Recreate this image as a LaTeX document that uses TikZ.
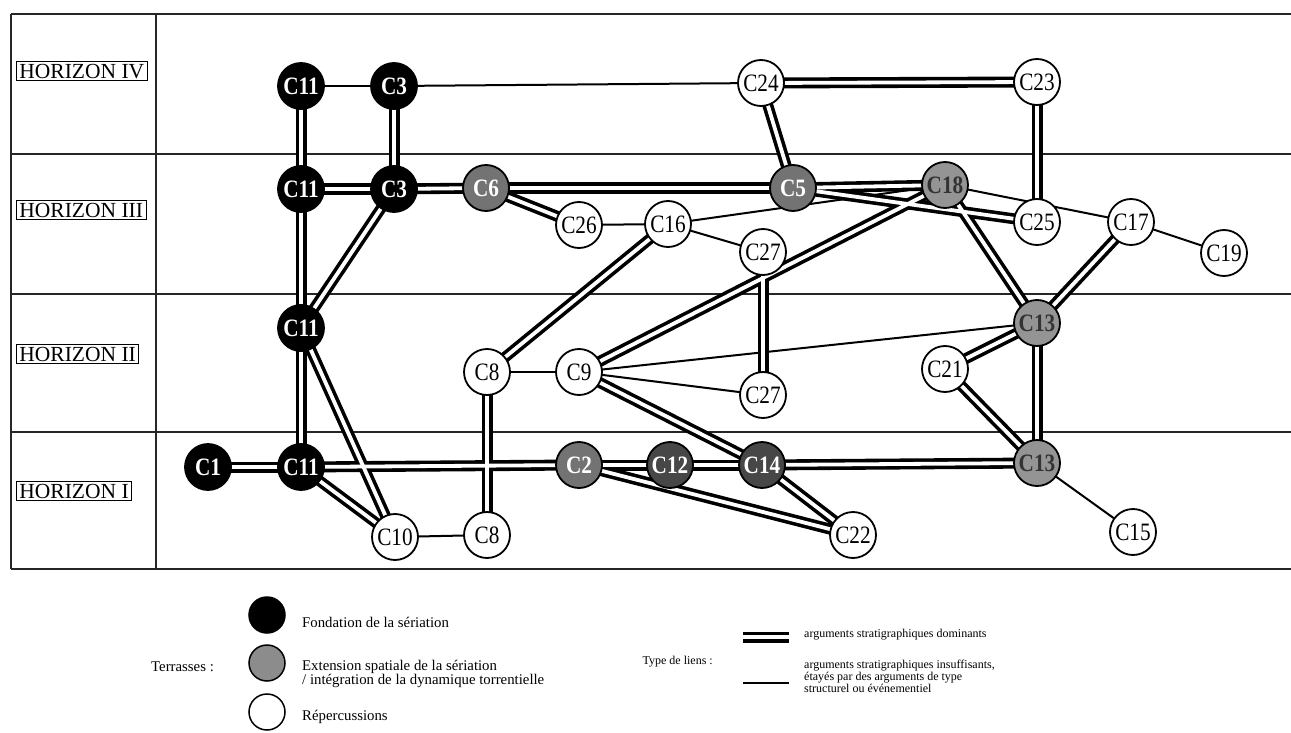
\documentclass[tikz,border=0pt]{standalone}
\usepackage{fontspec}
\setmainfont{Liberation Serif}
\newfontfamily\nf{Liberation Serif}[FakeStretch=0.85]
\pgfdeclarelayer{bgzero}
\pgfdeclarelayer{bgone}
\pgfsetlayers{bgzero,bgone,main}
\begin{document}
\begin{tikzpicture}[x=1pt,y=-1pt,
  frame/.style={line width=1.3pt,draw=black!85},
  hlab/.style={draw,line width=0.9pt,inner xsep=3pt,inner ysep=2pt,text height=14.2pt,text depth=0pt,font=\fontsize{21.5}{22}\selectfont},
  cnode/.style={circle,draw,line width=1.8pt,minimum size=46pt,inner sep=0pt,fill=white,font=\nf\fontsize{25}{25}\selectfont},
  found/.style={cnode,fill=black,text=white,font=\nf\bfseries\fontsize{25}{25}\selectfont},
  ext/.style={cnode,fill=black!55,text=white,font=\nf\bfseries\fontsize{25}{25}\selectfont},
  extd/.style={cnode,fill=black!72,text=white,font=\nf\bfseries\fontsize{25}{25}\selectfont},
  extl/.style={cnode,fill=black!42,text=black!80,font=\nf\bfseries\fontsize{25}{25}\selectfont},
  dblout/.style={line width=11pt,draw=black},
  dblin/.style={line width=3.8pt,draw=white},
  sgl/.style={line width=2pt,draw=black},
  legc/.style={circle,draw,line width=1.5pt,minimum size=36pt,inner sep=0pt},
  legl/.style={font=\fontsize{14.8}{12.5}\selectfont,align=left,inner sep=0pt},
  legr/.style={font=\fontsize{12}{12}\selectfont,align=left,inner sep=0pt}
]
\useasboundingbox (0,0) rectangle (1291,733);

% ---- horizon frame ----
\begin{pgfonlayer}{bgzero}
\draw[frame] (11,14) -- (1291,14);
\draw[frame] (11,154) -- (1291,154);
\draw[frame] (11,294) -- (1291,294);
\draw[frame] (11,432) -- (1291,432);
\draw[frame] (11,569) -- (1291,569);
\draw[frame] (11,14) -- (11,569);
\draw[frame] (156,14) -- (156,569);
\end{pgfonlayer}

\node[hlab,anchor=west] (h4) at (16,71) {HORIZON IV};
\node[hlab,anchor=west] (h3) at (16,210) {HORIZON III};
\node[hlab,anchor=west] (h2) at (16,354) {HORIZON II};
\node[hlab,anchor=west] (h1) at (16,491) {HORIZON I};

% ---- nodes ----
\node[found] (C11a) at (301,86) {C11};
\node[found] (C3a) at (394,86) {C3};
\node[cnode] (C24) at (761,83) {C24};
\node[cnode] (C23) at (1037,82) {C23};

\node[found] (C11b) at (301,189) {C11};
\node[found] (C3b) at (394,189) {C3};
\node[ext] (C6) at (486,188) {C6};
\node[ext] (C5) at (793,188) {C5};
\node[extl] (C18) at (945,185) {C18};
\node[cnode] (C26) at (579,225) {C26};
\node[cnode] (C16) at (668,224) {C16};
\node[cnode] (C27a) at (763,252) {C27};
\node[cnode] (C25) at (1037,222) {C25};
\node[cnode] (C17) at (1131,222) {C17};
\node[cnode] (C19) at (1224,253) {C19};

\node[found] (C11c) at (301,328) {C11};
\node[cnode] (C8a) at (487,372) {C8};
\node[cnode] (C9) at (579,372) {C9};
\node[cnode] (C27b) at (763,395) {C27};
\node[extl] (C13a) at (1037,323) {C13};
\node[cnode] (C21) at (945,369) {C21};

\node[found] (C1) at (208,467) {C1};
\node[found] (C11d) at (301,467) {C11};
\node[ext] (C2) at (579,465) {C2};
\node[extd] (C12) at (670,465) {C12};
\node[extd] (C14) at (762,465) {C14};
\node[extl] (C13b) at (1037,463) {C13};
\node[cnode] (C10) at (395,537) {C10};
\node[cnode] (C8b) at (487,535) {C8};
\node[cnode] (C22) at (853,535) {C22};
\node[cnode] (C15) at (1133,532) {C15};

% ---- connectors ----
\def\sgllist{C11a/C3a,C3a/C24,C26/C16,C16/C27a,C16/C18,C18/C17,C17/C19,C8a/C9,C9/C27b,C9/C13a,C10/C8b,C13b/C15}
\def\dbllist{C11a/C11b,C3a/C3b,C11b/C3b,C3b/C6,C11b/C11c,C3b/C11c,C11c/C11d,C11c/C10,C1/C11d,C11d/C10,C11d/C2,C2/C12,C12/C14,C14/C13b,C2/C22,C14/C22,C9/C14,C8a/C16,C8a/C8b,C9/C18,C6/C5,C5/C18,C24/C23,C24/C5,C6/C26,C5/C25,C18/C13a,C17/C13a,C13a/C21,C13a/C13b,C21/C13b,C23/C25,C27a/C27b}
\begin{pgfonlayer}{bgone}
\foreach \a/\b in \sgllist {\draw[sgl] (\a.center) -- (\b.center);}
\foreach \a/\b in \dbllist {\draw[dblout] (\a.center) -- (\b.center);}
\foreach \a/\b in \dbllist {\draw[dblin] (\a.center) -- (\b.center);}
\end{pgfonlayer}

% ---- legend ----
\node[legl,anchor=west] (terr) at (151,667) {Terrasses :};
\node[legc,fill=black] (lg1) at (267,615) {};
\node[legc,fill=black!45] (lg2) at (267,663) {};
\node[legc,fill=white] (lg3) at (267,712) {};
\node[legl,anchor=west] (lt1) at (302,622) {Fondation de la sériation};
\node[legl,anchor=west] (lt2) at (302,674) {Extension spatiale de la sériation\\/ intégration de la dynamique torrentielle};
\node[legl,anchor=west] (lt3) at (302,717) {Répercussions};

\node[legr,anchor=east] (tl) at (713,662) {Type de liens :};
\coordinate (d1) at (743,637);
\coordinate (d2) at (789,637);
\draw[dblout] (d1) -- (d2);
\draw[dblin] (d1) -- (d2);
\coordinate (s1) at (743,683);
\coordinate (s2) at (789,683);
\draw[sgl] (s1) -- (s2);
\node[legr,anchor=west] (rt1) at (804,635) {arguments stratigraphiques dominants};
\node[legr,anchor=west] (rt2) at (804,676) {arguments stratigraphiques insuffisants,\\étayés par des arguments de type\\structurel ou événementiel};
\end{tikzpicture}
\end{document}
